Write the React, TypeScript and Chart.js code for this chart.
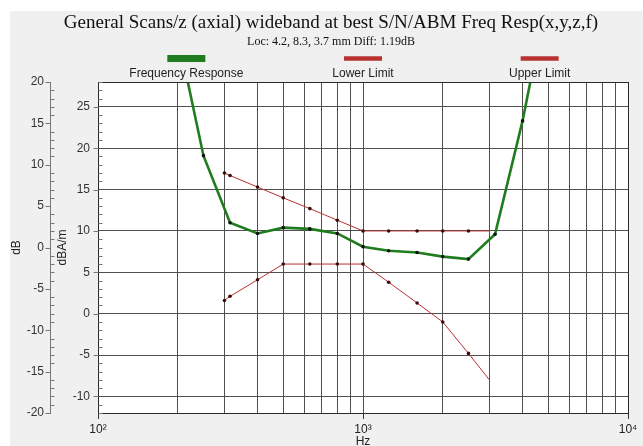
import React, { useEffect, useRef } from "react";
import { Chart, registerables } from "chart.js";

Chart.register(...registerables);

// ---------- data ----------
const chartTitle = "General Scans/z (axial) wideband at best S/N/ABM Freq Resp(x,y,z,f)";
const chartSubtitle = "Loc: 4.2, 8.3, 3.7 mm Diff: 1.19dB";
const seriesNames = ["Frequency Response", "Lower Limit", "Upper Limit"];

const responseFreqs = [200, 250, 315, 400, 500, 630, 800, 1000, 1250, 1600, 2000, 2500, 3150, 4000, 5000];
const responseValues = [33.7, 19.1, 11.0, 9.7, 10.4, 10.25, 9.7, 8.1, 7.6, 7.4, 6.9, 6.6, 9.6, 23.3, 38.8];

const limitFreqs = [300, 315, 400, 500, 630, 800, 1000, 1250, 1600, 2000, 2500, 3000];
const lowerLimitValues = [1.6, 2.1, 4.1, 6.0, 6.0, 6.0, 6.0, 3.8, 1.3, -1.0, -4.8, -8.0];
const upperLimitValues = [17.0, 16.7, 15.3, 14.0, 12.7, 11.3, 10.0, 10.0, 10.0, 10.0, 10.0, 10.0];

const xGridValues = [100, 200, 300, 400, 500, 600, 700, 800, 900, 1000, 2000, 3000, 4000, 5000, 6000, 7000, 8000, 9000, 10000];
const xDecadeLabels: Record<number, string> = { 100: "10²", 1000: "10³", 10000: "10⁴" };
const innerTickValues = [-10, -5, 0, 5, 10, 15, 20, 25];
const outerTickValues = [-20, -15, -10, -5, 0, 5, 10, 15, 20];
const innerRange = [-12, 28];
const outerRange = [-20, 20];
const outerTitle = "dB";
const innerTitle = "dBA/m";
const xTitle = "Hz";

// ---------- styles ----------
const SANS = '"Liberation Sans", Arial, sans-serif';
const SERIF = '"Liberation Serif", "Times New Roman", serif';
const GREEN = "#1f7d1f";
const RED = "#b83232";
const GRID = "#505050";

const decorPlugin = {
  id: "decor",
  beforeDraw(chart: any) {
    const { ctx, width, height, chartArea: a } = chart;
    ctx.save();
    ctx.fillStyle = "#ffffff";
    ctx.fillRect(0, 0, width, height);
    ctx.fillStyle = "#f0f0f0";
    ctx.fillRect(10, 11, width - 10, height - 11);
    ctx.fillStyle = "#ffffff";
    ctx.fillRect(a.left, a.top, a.right - a.left, a.bottom - a.top);
    ctx.restore();
  },
  afterDraw(chart: any) {
    const { ctx, chartArea: a } = chart;
    ctx.save();
    // frame
    ctx.strokeStyle = "#2a2a2a";
    ctx.lineWidth = 1;
    ctx.strokeRect(a.left + 0.5, a.top + 0.5, a.right - a.left, a.bottom - a.top);

    // y axis ticks (major outward, minor inward)
    const drawTicks = (scale: any, x: number) => {
      ctx.beginPath();
      for (let v = Math.ceil(scale.min); v <= scale.max; v++) {
        const y = Math.round(scale.getPixelForValue(v)) + 0.5;
        if (v % 5 === 0) {
          ctx.moveTo(x + 0.5, y);
          ctx.lineTo(x - 4.5, y);
        } else {
          ctx.moveTo(x + 0.5, y);
          ctx.lineTo(x + 4.5, y);
        }
      }
      ctx.stroke();
    };
    ctx.strokeStyle = "#777";
    drawTicks(chart.scales.yOuter, chart.scales.yOuter.right);
    drawTicks(chart.scales.y, chart.scales.y.right);

    // titles
    const cx = 331;
    ctx.fillStyle = "#111";
    ctx.textAlign = "center";
    ctx.textBaseline = "alphabetic";
    ctx.font = `19px ${SERIF}`;
    ctx.fillText(chartTitle, cx, 28);
    ctx.font = `12px ${SERIF}`;
    ctx.fillText(chartSubtitle, cx, 45);

    // legend
    const w = a.right - a.left;
    const centers = [1 / 6, 3 / 6, 5 / 6].map((f) => a.left + w * f);
    chart.data.datasets.forEach((ds: any, i: number) => {
      const c = centers[i];
      ctx.fillStyle = ds.borderColor;
      const h = i === 0 ? 7 : 4.5;
      ctx.fillRect(c - 19, 58.5 - h / 2, 38, h);
      ctx.fillStyle = "#222";
      ctx.font = `12px ${SANS}`;
      ctx.fillText(ds.label, c, 77);
    });
    ctx.restore();
  },
};

export default function App() {
  const ref = useRef<HTMLCanvasElement>(null);
  useEffect(() => {
    if (!ref.current) return;
    const mk = (xs: number[], ys: number[]) => xs.map((x, i) => ({ x, y: ys[i] }));
    const lastHidden = (n: number) => (ctx: any) => (ctx.dataIndex === n - 1 ? 0 : 1.8);
    const chart = new Chart(ref.current, {
      type: "line",
      data: {
        datasets: [
          {
            label: seriesNames[0],
            data: mk(responseFreqs, responseValues),
            borderColor: GREEN,
            borderWidth: 2.6,
            pointRadius: 1.8,
            pointBackgroundColor: "#111",
            pointBorderWidth: 0,
            tension: 0,
            yAxisID: "y",
            clip: 0,
          },
          {
            label: seriesNames[1],
            data: mk(limitFreqs, lowerLimitValues),
            borderColor: RED,
            borderWidth: 1,
            pointRadius: lastHidden(limitFreqs.length),
            pointBackgroundColor: "#3a0c0c",
            pointBorderWidth: 0,
            tension: 0,
            yAxisID: "y",
            clip: 0,
          },
          {
            label: seriesNames[2],
            data: mk(limitFreqs, upperLimitValues),
            borderColor: RED,
            borderWidth: 1,
            pointRadius: lastHidden(limitFreqs.length),
            pointBackgroundColor: "#3a0c0c",
            pointBorderWidth: 0,
            tension: 0,
            yAxisID: "y",
            clip: 0,
          },
        ],
      } as any,
      options: {
        responsive: false,
        animation: false,
        events: [],
        layout: { padding: { top: 82, right: 15, left: 0, bottom: 0 } },
        plugins: {
          legend: { display: false },
          title: { display: false },
          tooltip: { enabled: false },
        },
        scales: {
          x: {
            type: "logarithmic",
            position: "bottom",
            min: 100,
            max: 10000,
            afterBuildTicks: (s: any) => {
              s.ticks = xGridValues.map((v) => ({ value: v }));
            },
            afterFit: (s: any) => {
              s.height = 33;
            },
            grid: {
              color: GRID,
              drawTicks: true,
              tickLength: 6,
              tickColor: (c: any) => (c.tick && xDecadeLabels[c.tick.value] ? "#333" : "rgba(0,0,0,0)"),
            },
            border: { display: false },
            ticks: {
              autoSkip: false,
              maxRotation: 0,
              padding: 3,
              color: "#222",
              font: { family: SANS, size: 12 },
              callback: (v: any) => xDecadeLabels[Number(v)] ?? "",
            },
            title: {
              display: true,
              text: xTitle,
              color: "#222",
              font: { family: SANS, size: 12 },
              padding: { top: 0, bottom: -3 },
            },
          },
          y: {
            type: "linear",
            position: "left",
            weight: 0,
            min: innerRange[0],
            max: innerRange[1],
            afterBuildTicks: (s: any) => {
              s.ticks = innerTickValues.map((v) => ({ value: v }));
            },
            afterFit: (s: any) => {
              s.width = 48;
            },
            grid: { color: GRID, drawTicks: false },
            border: { display: false },
            ticks: { padding: 8, color: "#333", font: { family: SANS, size: 12 } },
            title: {
              display: true,
              text: innerTitle,
              color: "#222",
              font: { family: SANS, size: 12 },
              padding: { top: 5, bottom: 0 },
            },
          },
          yOuter: {
            type: "linear",
            position: "left",
            weight: 10,
            min: outerRange[0],
            max: outerRange[1],
            afterBuildTicks: (s: any) => {
              s.ticks = outerTickValues.map((v) => ({ value: v }));
            },
            afterFit: (s: any) => {
              s.width = 50;
            },
            grid: { display: false, drawTicks: false, drawOnChartArea: false },
            border: { display: true, color: "#777" },
            ticks: { padding: 6, color: "#333", font: { family: SANS, size: 12 } },
            title: {
              display: true,
              text: outerTitle,
              color: "#222",
              font: { family: SANS, size: 12 },
              padding: { top: 9, bottom: 0 },
            },
          },
        },
      } as any,
      plugins: [decorPlugin],
    });
    return () => chart.destroy();
  }, []);
  return (
    <div style={{ position: "fixed", left: 0, top: 0, width: 643, height: 446 }}>
      <canvas ref={ref} width={643} height={446} style={{ display: "block", width: 643, height: 446 }} />
    </div>
  );
}
